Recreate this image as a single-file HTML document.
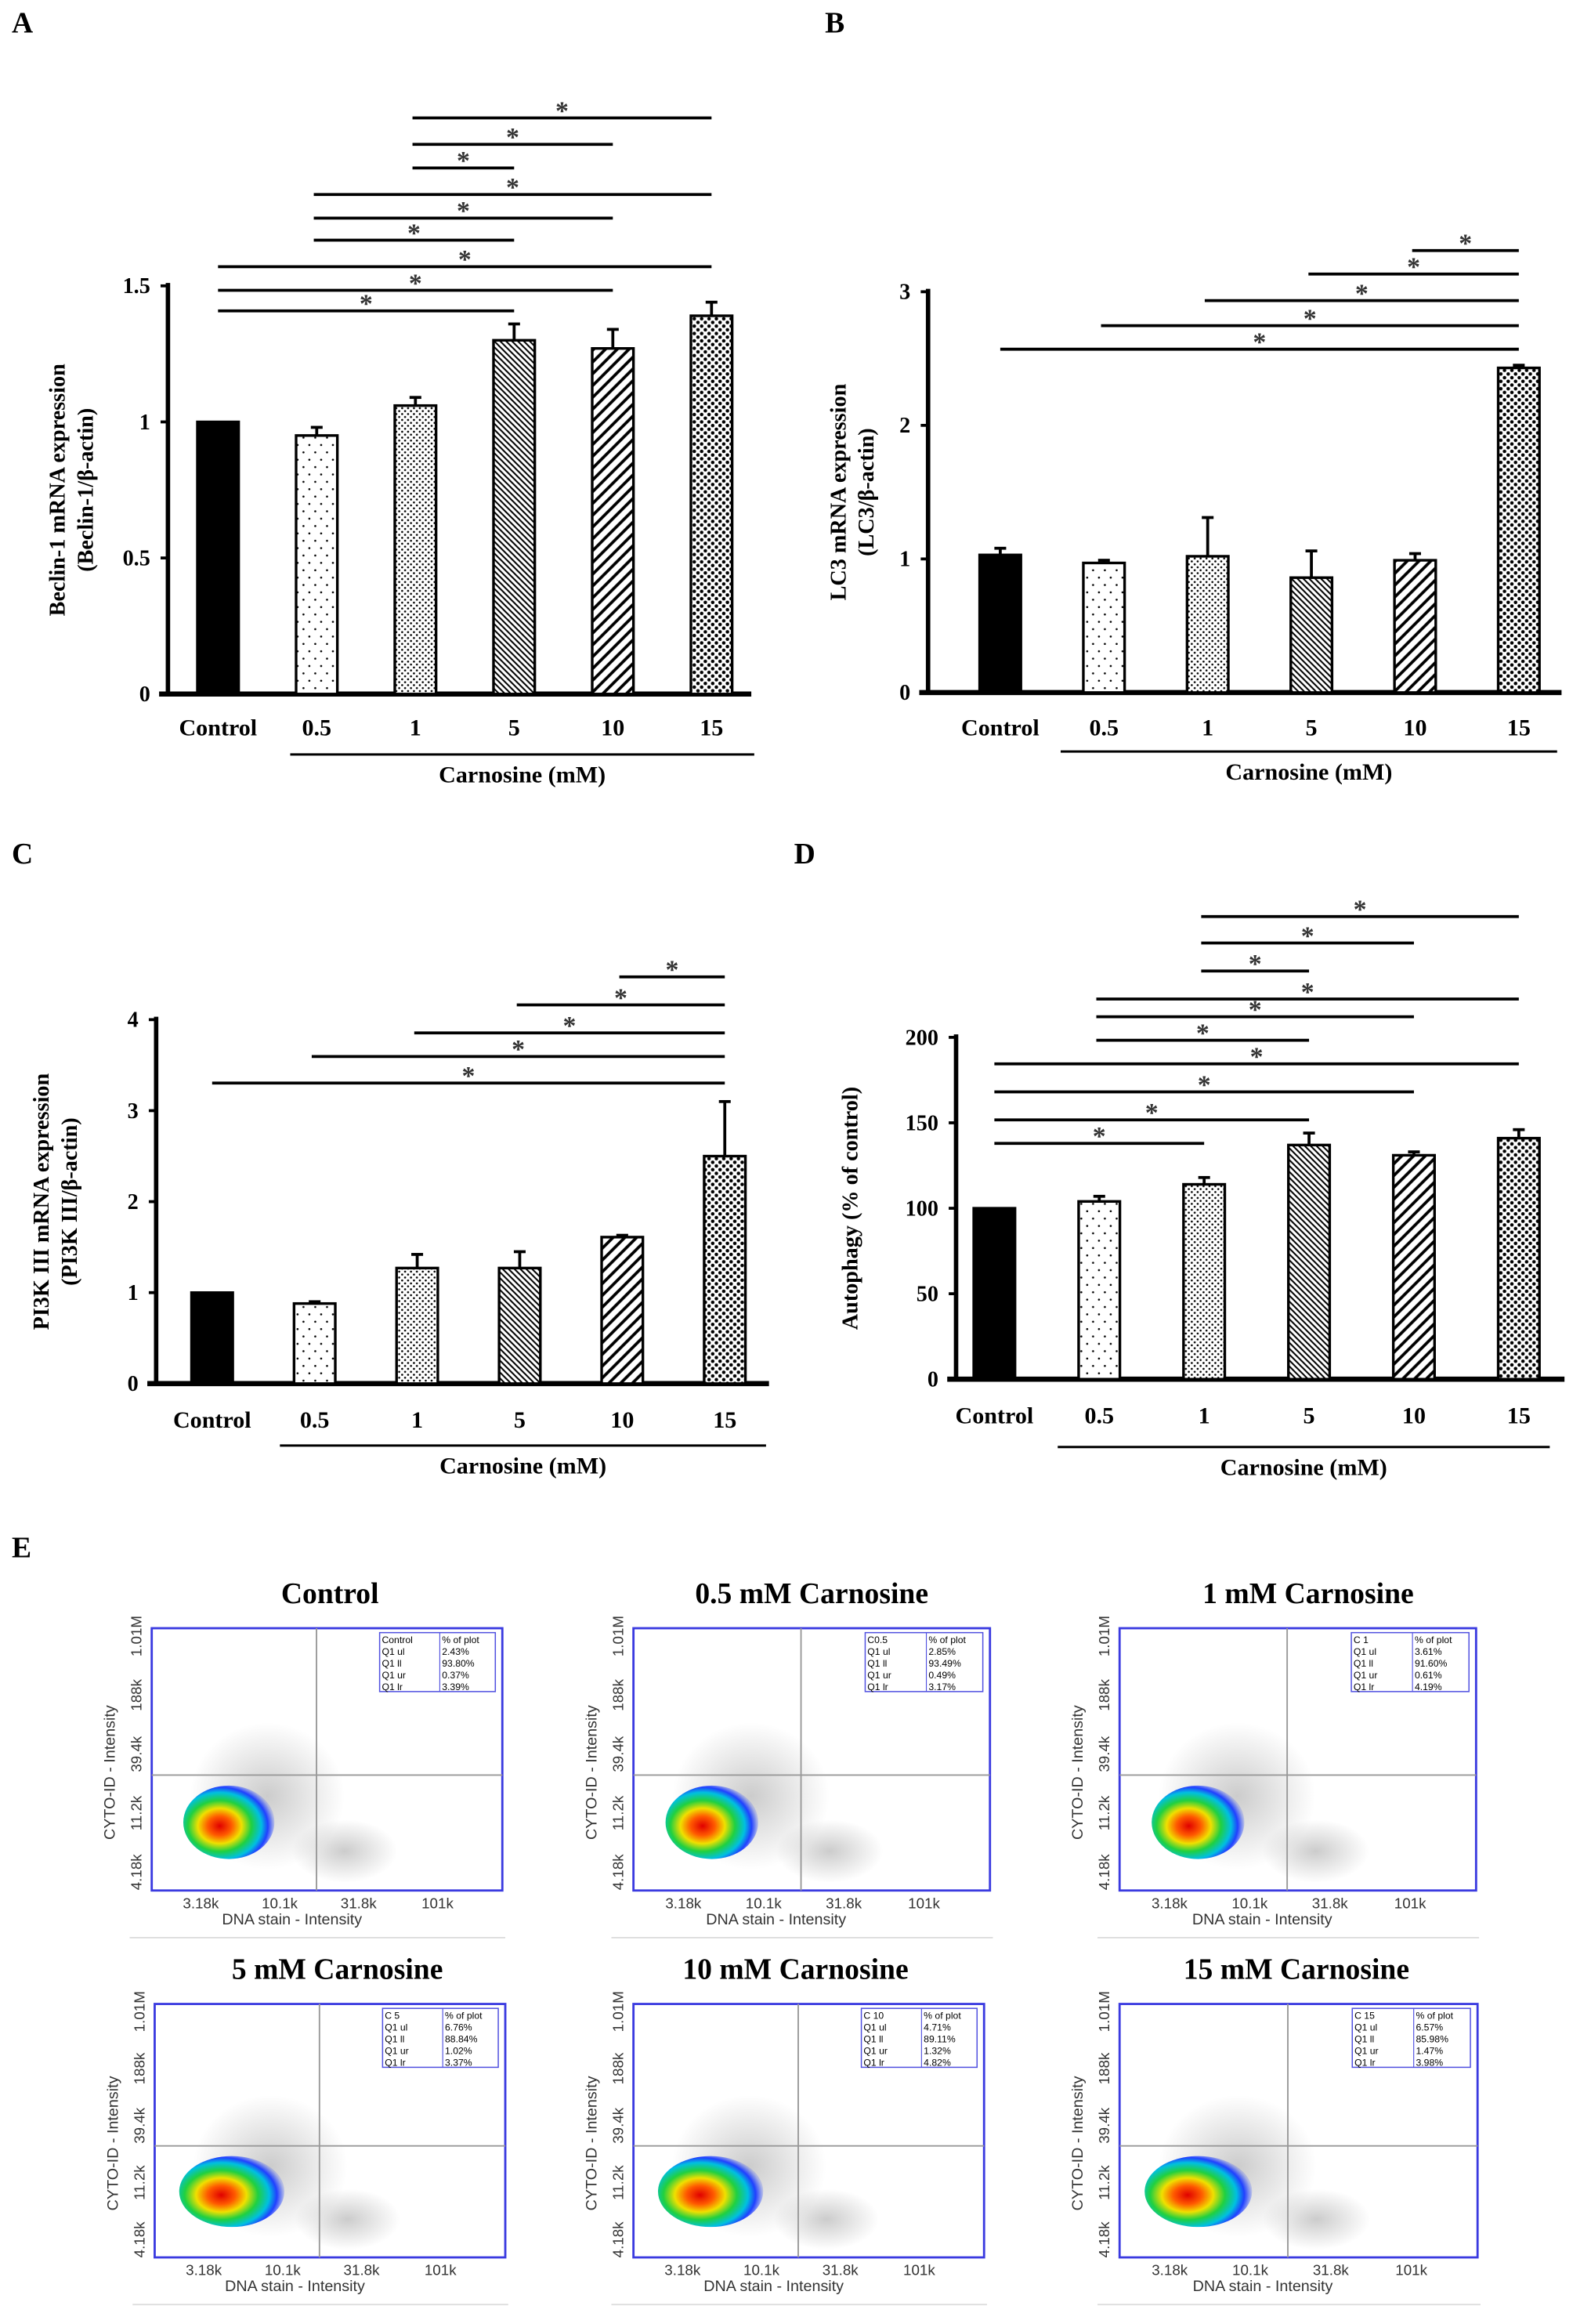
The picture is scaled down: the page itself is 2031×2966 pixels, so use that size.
<!DOCTYPE html>
<html><head><meta charset="utf-8"><style>
html,body{margin:0;padding:0;background:#fff;}
svg{display:block;}
text{font-family:"Liberation Serif",serif;font-weight:bold;}
.sans{font-family:"Liberation Sans",sans-serif;font-weight:normal;}
</style></head><body>
<svg id="fig" width="2031" height="2966" viewBox="0 0 1080 1577.2" preserveAspectRatio="none" xmlns="http://www.w3.org/2000/svg">
<defs>
<pattern id="p05" width="8" height="10" patternUnits="userSpaceOnUse"><rect width="8" height="10" fill="#fff"/><circle cx="2" cy="2" r="0.7" fill="#000"/><circle cx="6" cy="7" r="0.7" fill="#000"/></pattern>
<pattern id="p1" width="4" height="4" patternUnits="userSpaceOnUse"><rect width="4" height="4" fill="#fff"/><circle cx="1" cy="1" r="0.7" fill="#000"/><circle cx="3" cy="3" r="0.7" fill="#000"/></pattern>
<pattern id="p5" width="4" height="4" patternUnits="userSpaceOnUse"><rect width="4" height="4" fill="#fff"/><path d="M-1,-1 L5,5 M-1,3 L1,5 M3,-1 L5,1" stroke="#000" stroke-width="1.1"/></pattern>
<pattern id="p10" width="8" height="8" patternUnits="userSpaceOnUse"><rect width="8" height="8" fill="#fff"/><path d="M-2,10 L10,-2 M-2,2 L2,-2 M6,10 L10,6" stroke="#000" stroke-width="2"/></pattern>
<pattern id="p15" width="5" height="5" patternUnits="userSpaceOnUse"><rect width="5" height="5" fill="#fff"/><circle cx="1.3" cy="1.3" r="1.2" fill="#000"/><circle cx="3.8" cy="3.8" r="1.2" fill="#000"/></pattern>
<radialGradient id="blob" cx="0.4" cy="0.55" r="0.6">
<stop offset="0" stop-color="#e00000"/><stop offset="0.22" stop-color="#ff5a00"/><stop offset="0.4" stop-color="#f0e000"/><stop offset="0.58" stop-color="#20d040"/><stop offset="0.76" stop-color="#00c0e0"/><stop offset="0.88" stop-color="#2040ff"/><stop offset="1" stop-color="#2040ff" stop-opacity="0.2"/>
</radialGradient>
<radialGradient id="cloud" cx="0.5" cy="0.5" r="0.5"><stop offset="0" stop-color="#999" stop-opacity="0.5"/><stop offset="1" stop-color="#999" stop-opacity="0"/></radialGradient>
</defs>
</svg>
<script>
const cats = ["Control","0.5","1","5","10","15"];
const fills = ["#000","url(#p05)","url(#p1)","url(#p5)","url(#p10)","url(#p15)"];
const aVals = [1.0,0.95,1.06,1.30,1.27,1.39];
const aErr = [0,0.03,0.03,0.06,0.07,0.05];
const aTicks = [0,0.5,1,1.5];
const aSig = [[2,5],[2,4],[2,3],[1,5],[1,4],[1,3],[0,5],[0,4],[0,3]];
const bVals = [1.03,0.97,1.02,0.86,0.99,2.43];
const bErr = [0.05,0.02,0.29,0.2,0.05,0.02];
const bTicks = [0,1,2,3];
const bSig = [[4,5],[3,5],[2,5],[1,5],[0,5]];
const cVals = [1.0,0.88,1.27,1.27,1.61,2.5];
const cErr = [0,0.02,0.15,0.18,0.02,0.6];
const cTicks = [0,1,2,3,4];
const cSig = [[4,5],[3,5],[2,5],[1,5],[0,5]];
const dVals = [100,104,114,137,131,141];
const dErr = [0,3,4,7,2,5];
const dTicks = [0,50,100,150,200];
const dSig = [[2,5],[2,4],[2,3],[1,5],[1,4],[1,3],[0,5],[0,4],[0,3],[0,2]];
const flowTitles = ["Control","0.5 mM Carnosine","1 mM Carnosine","5 mM Carnosine","10 mM Carnosine","15 mM Carnosine"];
const flowIds = ["Control","C0.5","C 1","C 5","C 10","C 15"];
const flowUL = ["2.43%","2.85%","3.61%","6.76%","4.71%","6.57%"];
const flowLL = ["93.80%","93.49%","91.60%","88.84%","89.11%","85.98%"];
const flowUR = ["0.37%","0.49%","0.61%","1.02%","1.32%","1.47%"];
const flowLR = ["3.39%","3.17%","4.19%","3.37%","4.82%","3.98%"];
const xTicks = ["3.18k","10.1k","31.8k","101k"];
const yTicks = ["4.18k","11.2k","39.4k","188k","1.01M"];

const NS="http://www.w3.org/2000/svg";
const svg=document.getElementById('fig');
function el(tag,attrs,parent,txt){const e=document.createElementNS(NS,tag);for(const k in attrs)e.setAttribute(k,attrs[k]);if(txt!==undefined)e.textContent=txt;(parent||svg).appendChild(e);return e;}

function panel(cfg){
  const g=el('g',{});
  
  
  const max=cfg.ticks[cfg.ticks.length-1];
  const y=v=>cfg.y0-(cfg.y0-cfg.yTop)*v/max;
  const x=i=>cfg.x0+i*cfg.dx;
  const lab=el('text',{x:cfg.lx,y:cfg.ly,'font-size':20},g,cfg.letter);
  
  el('line',{x1:cfg.ax,y1:cfg.yTop-2,x2:cfg.ax,y2:cfg.y0,stroke:'#000','stroke-width':3},g);
  el('line',{x1:cfg.ax-6,y1:cfg.y0,x2:cfg.xEnd,y2:cfg.y0,stroke:'#000','stroke-width':3.5},g);
  cfg.ticks.forEach(t=>{
    el('line',{x1:cfg.ax-5,y1:y(t),x2:cfg.ax,y2:y(t),stroke:'#000','stroke-width':2},g);
    const tt=el('text',{x:cfg.ax-12,y:y(t)+5,'font-size':15,'text-anchor':'end'},g,String(t));
    
  });
  cfg.vals.forEach((v,i)=>{
    const w=cfg.bw;
    const r=el('rect',{x:x(i)-w/2,y:y(v),width:w,height:cfg.y0-y(v),fill:fills[i],stroke:'#000','stroke-width':1.8},g);
    
    if(cfg.err[i]>0){
      el('line',{x1:x(i),y1:y(v),x2:x(i),y2:y(v+cfg.err[i]),stroke:'#000','stroke-width':2},g);
      el('line',{x1:x(i)-4,y1:y(v+cfg.err[i]),x2:x(i)+4,y2:y(v+cfg.err[i]),stroke:'#000','stroke-width':2},g);
    }
    const tl=el('text',{x:x(i),y:cfg.labY,'font-size':16,'text-anchor':'middle'},g,cats[i]);
    
  });
  cfg.sig.forEach((s,k)=>{
    const yy=cfg.sigY[k];
    const a=x(s[0])-(s[0]==0?0:2), b=x(s[1]);
    const ln=el('line',{x1:a,y1:yy,x2:b,y2:yy,stroke:'#000','stroke-width':2},g);
    
    el('text',{x:(a+b)/2,y:yy+1,'font-size':18,'text-anchor':'middle','font-weight':'normal',fill:'#333'},g,'*');
  });
  el('line',{x1:cfg.ulx1,y1:cfg.uly,x2:cfg.ulx2,y2:cfg.uly,stroke:'#000','stroke-width':1.6},g);
  const xt=el('text',{x:(cfg.ulx1+cfg.ulx2)/2,y:cfg.uly+19,'font-size':16,'text-anchor':'middle'},g,'Carnosine (mM)');
  
  const yt=el('text',{transform:`translate(${cfg.ytx},${(cfg.y0+cfg.yTop)/2}) rotate(-90)`,'font-size':15,'text-anchor':'middle'},g);
  
  el('tspan',{x:0,y:0},yt,cfg.yt1);
  if(cfg.yt2) el('tspan',{x:0,y:19},yt,cfg.yt2);
}

panel({name:'panel-a-beclin',letter:'A',lx:8,ly:22,ax:114,x0:148,dx:67,bw:28,y0:471,yTop:194,xEnd:510,ticks:aTicks,vals:aVals,err:aErr,sig:aSig,
  sigY:[80,98,114,132,148,163,181,197,211],labY:499,ulx1:197,ulx2:512,uly:512,ytx:44,yt1:'Beclin-1 mRNA expression',yt2:'(Beclin-1/β-actin)'});
panel({name:'panel-b-lc3',letter:'B',lx:560,ly:22,ax:630,x0:679,dx:70.4,bw:28,y0:470,yTop:198,xEnd:1060,ticks:bTicks,vals:bVals,err:bErr,sig:bSig,
  sigY:[170,186,204,221,237],labY:499,ulx1:720,ulx2:1057,uly:510,ytx:574,yt1:'LC3 mRNA expression',yt2:'(LC3/β-actin)'});
panel({name:'panel-c-pi3k',letter:'C',lx:8,ly:586,ax:106,x0:144,dx:69.6,bw:28,y0:939,yTop:692,xEnd:522,ticks:cTicks,vals:cVals,err:cErr,sig:cSig,
  sigY:[663,682,701,717,735],labY:969,ulx1:190,ulx2:520,uly:981,ytx:33,yt1:'PI3K III mRNA expression',yt2:'(PI3K III/β-actin)'});
panel({name:'panel-d-autophagy',letter:'D',lx:539,ly:586,ax:649,x0:675,dx:71.2,bw:28,y0:936,yTop:704,xEnd:1062,ticks:dTicks,vals:dVals,err:dErr,sig:dSig,
  sigY:[622,640,659,678,690,706,722,741,760,776],labY:966,ulx1:718,ulx2:1052,uly:982,ytx:582,yt1:'Autophagy  (% of control)'});

const le=el('text',{x:8,y:1057,'font-size':20},svg,'E');


const boxes=[[103,1105,238,178],[430,1105,242,178],[760,1105,242,178],[105,1360,238,172],[430,1360,238,172],[760,1360,243,172]];
const titleX=[224,551,888,229,540,880];
flowTitles.forEach((t,i)=>{
  const [bx,by,bw,bh]=boxes[i];
  const g=el('g',{});
  
  
  const tt=el('text',{x:titleX[i],y:by-17,'font-size':20,'text-anchor':'middle'},g,t);
  
  el('ellipse',{cx:bx+bw*0.33,cy:by+bh*0.64,rx:bw*0.22,ry:bh*0.28,fill:'url(#cloud)'},g);
  el('ellipse',{cx:bx+bw*0.55,cy:by+bh*0.85,rx:bw*0.15,ry:bh*0.12,fill:'url(#cloud)'},g);
  el('ellipse',{cx:bx+bw*0.22,cy:by+bh*0.74,rx:bw*0.13+(i>2?bw*0.02:0),ry:bh*0.14,fill:'url(#blob)'},g);
  el('rect',{x:bx,y:by,width:bw,height:bh,fill:'none',stroke:'#3a3ae0','stroke-width':1.5},g);
  el('line',{x1:bx+bw*0.47,y1:by,x2:bx+bw*0.47,y2:by+bh,stroke:'#999','stroke-width':1},g);
  el('line',{x1:bx,y1:by+bh*0.56,x2:bx+bw,y2:by+bh*0.56,stroke:'#999','stroke-width':1},g);
  const tx=bx+bw*0.65, ty=by+3, tw=bw*0.33, th=40;
  el('rect',{x:tx,y:ty,width:tw,height:th,fill:'#fff',stroke:'#5050e0','stroke-width':0.8},g);
  el('line',{x1:tx+tw*0.52,y1:ty,x2:tx+tw*0.52,y2:ty+th,stroke:'#5050e0','stroke-width':0.6},g);
  const rows=[[flowIds[i],'% of plot'],['Q1 ul',flowUL[i]],['Q1 ll',flowLL[i]],['Q1 ur',flowUR[i]],['Q1 lr',flowLR[i]]];
  rows.forEach((r,k)=>{
    el('text',{x:tx+1.5,y:ty+7+k*8,'font-size':6.5,class:'sans'},g,r[0]);
    el('text',{x:tx+tw*0.52+1.5,y:ty+7+k*8,'font-size':6.5,class:'sans'},g,r[1]);
  });
  xTicks.forEach((t,k)=>{
    const xx=bx+bw*(0.14+k*0.225);
    el('text',{x:xx,y:by+bh+12,'font-size':10,'text-anchor':'middle',class:'sans',fill:'#333'},g,t);
  });
  el('text',{x:bx+bw*0.4,y:by+bh+23,'font-size':10.5,'text-anchor':'middle',class:'sans',fill:'#333'},g,'DNA stain - Intensity');
  yTicks.forEach((t,k)=>{
    const yy=by+bh*(0.93-k*0.225);
    el('text',{transform:`translate(${bx-7},${yy}) rotate(-90)`,'font-size':10,'text-anchor':'middle',class:'sans',fill:'#333'},g,t);
  });
  el('text',{transform:`translate(${bx-25},${by+bh*0.55}) rotate(-90)`,'font-size':10.5,'text-anchor':'middle',class:'sans',fill:'#333'},g,'CYTO-ID - Intensity');
  el('line',{x1:bx-15,y1:by+bh+32,x2:bx+bw+2,y2:by+bh+32,stroke:'#ddd','stroke-width':1},g);
});
</script>
</body></html>
